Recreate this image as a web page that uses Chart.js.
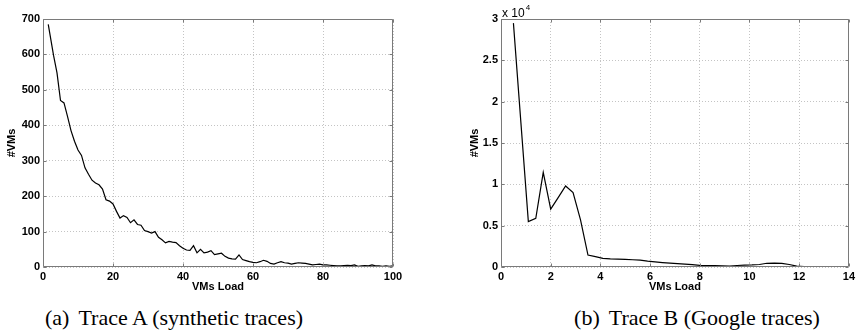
<!DOCTYPE html>
<html>
<head>
<meta charset="utf-8">
<script src="https://cdn.jsdelivr.net/npm/chart.js@4.4.1/dist/chart.umd.min.js"></script>
<style>
    body { margin: 0; background: #fff; width: 858px; height: 333px; position: relative; overflow: hidden; }
    canvas { position: absolute; top: 0; }
    #chartA { left: 0; }
    #chartB { left: 463px; }
    .caption {
        position: absolute; top: 305px;
        font-family: "Liberation Serif", "Times New Roman", serif;
        font-size: 22px; line-height: 26px; white-space: nowrap;
        transform: translateX(-50%);
    }
    .caption span { margin-right: 9px; }
</style>
</head>
<body>
<canvas id="chartA" width="420" height="300"></canvas>
<canvas id="chartB" width="395" height="300"></canvas>
<div class="caption" style="left:174px"><span>(a)</span>Trace A (synthetic traces)</div>
<div class="caption" style="left:697px"><span>(b)</span>Trace B (Google traces)</div>

<script>
// Trace A (synthetic)
const loadA = [1.5, 3, 4, 5, 6, 7, 8, 9, 10,
    11, 12, 13, 14, 15, 16, 17, 18, 19, 20,
    21, 22, 23, 24, 25, 26, 27, 28, 29, 30,
    31, 32, 33, 34, 35, 36, 37, 38, 39, 40,
    41, 42, 43, 44, 45, 46, 47, 48, 49, 50,
    51, 52, 53, 54, 55, 56, 57, 58, 59, 60,
    61, 62, 63, 64, 65, 66, 67, 68, 69, 70,
    71, 72, 73, 74, 75, 76, 77, 78, 79, 80,
    81, 82, 83, 84, 85, 86, 87, 88, 89, 90,
    91, 92, 93, 94, 95, 96, 97, 98, 99, 100];
const vmsA = [685, 598, 548, 470, 463, 425, 385, 355, 330,
    315, 280, 262, 245, 237, 232, 220, 190, 186, 178,
    157, 138, 145, 140, 125, 133, 120, 118, 103, 100,
    96, 100, 84, 77, 68, 72, 70, 69, 60, 53,
    48, 47, 60, 40, 50, 40, 42, 46, 35, 37,
    39, 30, 25, 23, 22, 34, 21, 18, 15, 13,
    12, 15, 19, 16, 10, 8, 12, 15, 12, 11,
    8, 10, 12, 11, 10, 8, 6, 7, 8, 6,
    6, 5, 4, 3, 3, 4, 5, 4, 6, 2,
    3, 4, 3, 6, 3, 3, 2, 3, 2, 3];

// Trace B (Google)
const loadB = [0.5, 0.8, 1.1, 1.4, 1.7, 2.0, 2.3, 2.6, 2.9, 3.2,
    3.5, 3.8, 4.1, 4.4, 4.7, 5.0, 5.3, 5.6, 5.9, 6.2,
    6.5, 6.8, 7.1, 7.4, 7.7, 8.0, 8.3, 8.6, 8.9, 9.2,
    9.5, 9.8, 10.1, 10.4, 10.7, 11.0, 11.3, 11.6, 11.9, 12.2, 12.4];
const vmsB = [29500, 17500, 5500, 5900, 11450, 7000, 8400, 9800, 9000, 5700,
    1450, 1250, 1050, 980, 960, 920, 880, 820, 700, 620,
    540, 480, 420, 350, 280, 200, 180, 160, 140, 120,
    180, 230, 250, 300, 450, 480, 430, 300, 100, 50, 0];

const ticksA = { xMax: 100, xStep: 20, yMax: 700, yStep: 100 };
const ticksB = { xMax: 14, xStep: 2, yMax: 30000, yStep: 5000 };

const tickFont = { family: '"Liberation Sans", Arial, sans-serif', size: 11, weight: 'bold' };

// MATLAB style box with inward tick marks
const boxPlugin = {
    id: 'matlabBox',
    afterDraw(chart, args, opts) {
        const { ctx, chartArea: a, scales } = chart;
        const L = Math.round(a.left) + 0.5, R = Math.round(a.right) - 0.5;
        const T = Math.round(a.top) + 0.5, B = Math.round(a.bottom) - 0.5;
        ctx.save();
        ctx.strokeStyle = '#7a7a7a';
        ctx.lineWidth = 1;
        ctx.beginPath();
        ctx.rect(L, T, R - L, B - T);
        scales.x.ticks.forEach(t => {
            const px = Math.round(scales.x.getPixelForValue(t.value)) + 0.5;
            ctx.moveTo(px, B); ctx.lineTo(px, B - 3);
            ctx.moveTo(px, T); ctx.lineTo(px, T + 3);
        });
        scales.y.ticks.forEach(t => {
            const py = Math.round(scales.y.getPixelForValue(t.value)) + 0.5;
            ctx.moveTo(L, py); ctx.lineTo(L + 3, py);
            ctx.moveTo(R, py); ctx.lineTo(R - 3, py);
        });
        ctx.stroke();
        if (opts.exponent) {
            ctx.fillStyle = '#000';
            ctx.font = '12px "Liberation Sans", Arial, sans-serif';
            ctx.textBaseline = 'alphabetic';
            ctx.fillText('x 10', a.left + 1, a.top - 2);
            const w = ctx.measureText('x 10').width;
            ctx.font = '8px "Liberation Sans", Arial, sans-serif';
            ctx.fillText(opts.exponent, a.left + 2 + w, a.top - 9);
        }
        ctx.restore();
    }
};

function makeChart(id, xs, ys, t, yWidth, padRight, yFormat, exponent) {
    const points = xs.map((x, i) => ({ x: x, y: ys[i] }));
    return new Chart(document.getElementById(id), {
        type: 'line',
        data: {
            datasets: [{
                data: points,
                borderColor: '#000',
                borderWidth: 1.2,
                pointRadius: 0,
                tension: 0,
                fill: false
            }]
        },
        options: {
            responsive: false,
            animation: false,
            devicePixelRatio: 1,
            layout: { padding: { top: 19, right: padRight, left: 0, bottom: 0 } },
            plugins: {
                legend: { display: false },
                tooltip: { enabled: false },
                matlabBox: { exponent: exponent }
            },
            scales: {
                x: {
                    type: 'linear',
                    min: 0,
                    max: t.xMax,
                    afterFit: s => { s.height = 33; },
                    grid: { color: '#c4c4c4', drawTicks: false },
                    border: { display: false, dash: [1, 2] },
                    ticks: { stepSize: t.xStep, color: '#000', font: tickFont, padding: 3, maxRotation: 0 },
                    title: {
                        display: true, text: 'VMs Load', color: '#000',
                        font: { family: '"Liberation Sans", Arial, sans-serif', size: 11, weight: 'bold' },
                        padding: { top: 0, bottom: 6 }
                    }
                },
                y: {
                    min: 0,
                    max: t.yMax,
                    afterFit: s => { s.width = yWidth; },
                    grid: { color: '#c4c4c4', drawTicks: false },
                    border: { display: false, dash: [1, 2] },
                    ticks: { stepSize: t.yStep, color: '#000', font: tickFont, padding: 3, callback: yFormat },
                    title: {
                        display: true, text: '#VMs', color: '#000',
                        font: { family: '"Liberation Sans", Arial, sans-serif', size: 11, weight: 'bold' },
                        padding: { top: 5, bottom: 0 }
                    }
                }
            }
        },
        plugins: [boxPlugin]
    });
}

makeChart('chartA', loadA, vmsA, ticksA, 43, 27, v => v, null);
makeChart('chartB', loadB, vmsB, ticksB, 38, 6, v => v / 10000, '4');
</script>
</body>
</html>
